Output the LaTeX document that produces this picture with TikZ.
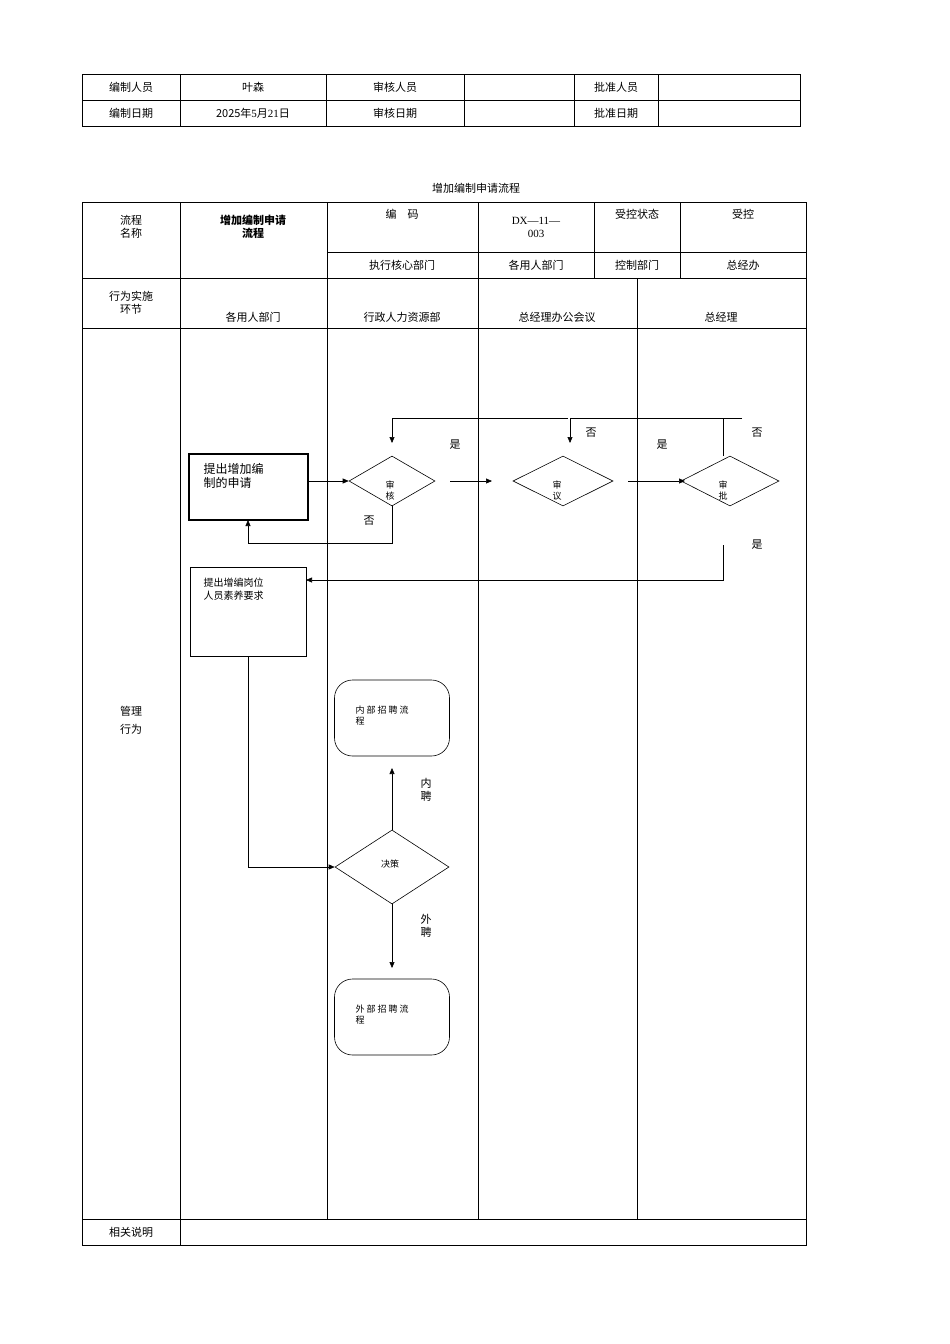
\documentclass[tikz,border=0pt]{standalone}
\usepackage{fontspec}
\setmainfont{Liberation Serif}
\newfontfamily\cjk{Noto Sans CJK SC}
\usetikzlibrary{shapes.geometric,arrows.meta}
\begin{document}
\begin{tikzpicture}[x=1pt,y=-1pt,font=\cjk\fontsize{11}{13}\selectfont,
  tl/.style={line width=0.6pt},
  arr/.style={-{Triangle[length=6pt,width=5pt]},line width=0.6pt},
  dia/.style={diamond,draw,line width=0.6pt,aspect=1.8,inner sep=0pt},
  stad/.style={draw,rounded corners=18pt,line width=0.6pt},
  sm/.style={font=\cjk\fontsize{9}{11}\selectfont}]
\useasboundingbox (0,0) rectangle (950,1344);
% top table
\draw[tl] (82,74) rectangle (800,126) (82,100)--(800,100);
\foreach \x in {180,326,464,574,658} \draw[tl] (\x,74)--(\x,126);
\node (a1) at (131,87) {编制人员}; \node (a2) at (253,87) {叶森};
\node (a3) at (395,87) {审核人员}; \node (a4) at (616,87) {批准人员};
\node (b1) at (131,113) {编制日期}; \node (b2) at (253,113) {2025\cjk 年\rmfamily 5\cjk 月\rmfamily 21\cjk 日};
\node (b3) at (395,113) {审核日期}; \node (b4) at (616,113) {批准日期};
\node (title) at (476,188) {增加编制申请流程};
% main table
\draw[tl] (82,202) rectangle (806,1245);
\draw[tl] (327,252)--(806,252) (82,278)--(806,278) (82,328)--(806,328) (82,1219)--(806,1219);
\draw[tl] (180,202)--(180,1245) (327,202)--(327,1219) (478,202)--(478,1219) (637,278)--(637,1219);
\draw[tl] (594,202)--(594,278) (680,202)--(680,278);
\node[align=center] (h1) at (131,227) {流程\\名称};
\node[align=center,font=\cjk\bfseries\fontsize{11}{13}\selectfont] (h2) at (253,227) {增加编制申请\\流程};
\node (h3) at (402,214) {编\quad 码};
\node[align=center] (h4) at (536,227) {\rmfamily DX—11—\\\rmfamily 003};
\node (h5) at (637,214) {受控状态}; \node (h6) at (743,214) {受控};
\node (h7) at (402,265) {执行核心部门}; \node (h8) at (536,265) {各用人部门};
\node (h9) at (637,265) {控制部门}; \node (h10) at (743,265) {总经办};
\node[align=center] (r1) at (131,303) {行为实施\\环节};
\node (l1) at (253,317) {各用人部门}; \node (l2) at (402,317) {行政人力资源部};
\node (l3) at (557,317) {总经理办公会议}; \node (l4) at (721,317) {总经理};
\node[align=center,font=\cjk\fontsize{11}{18}\selectfont] (m) at (131,720) {管理\\行为};
\node (rel) at (131,1232) {相关说明};
% flow
\draw[line width=2pt] (189,454) rectangle (308,520);
\node[align=left,font=\cjk\fontsize{12}{14}\selectfont,anchor=north west] (p1) at (200,460) {提出增加编\\制的申请};
\coordinate (p1e) at (308,481); \coordinate (p1s) at (248,520);
\node[dia,minimum width=86pt,minimum height=50pt] (d1) at (392,481) {};
\node[sm,align=center] at (390,491) {审\\核};
\node[dia,minimum width=100pt,minimum height=50pt] (d2) at (563,481) {};
\node[sm,align=center] at (557,491) {审\\议};
\node[dia,minimum width=98pt,minimum height=50pt] (d3) at (730,481) {};
\node[sm,align=center] at (723,491) {审\\批};
\draw[tl] (190,567) rectangle (306,656);
\node[align=left,sm,font=\cjk\fontsize{10}{13}\selectfont,anchor=north west] (p2) at (200,574) {提出增编岗位\\人员素养要求};
\coordinate (p2e) at (306,580); \coordinate (p2s) at (248,656);
\draw[arr] (p1e)--(d1.west);
\draw[arr] (392,506)--(392,543)--(248,543)--(p1s);
\node at (369,521) {否};
\coordinate (g1) at (450,481); \coordinate (g2) at (492,481);
\draw[arr] (g1)--(g2);
\coordinate (g3) at (628,481); \coordinate (g4) at (685,481);
\draw[arr] (g3)--(g4);
\node at (455,445) {是}; \node at (662,445) {是};
\node at (591,433) {否}; \node at (757,433) {否};
\draw[arr] (568,418)--(392,418)--(392,443);
\draw[arr] (742,418)--(570,418)--(570,443);
\draw[tl] (723,418)--(723,456);
\draw[arr] (723,545)--(723,580)--(p2e);
\node at (757,545) {是};
% recruitment
\node[stad,minimum width=115pt,minimum height=76pt] (in) at (392,718) {};
\node[sm,align=left,anchor=north west] at (352,702) {内 部 招 聘 流\\程};
\node[stad,minimum width=115pt,minimum height=76pt] (out) at (392,1017) {};
\node[sm,align=left,anchor=north west] at (352,1001) {外 部 招 聘 流\\程};
\node[dia,minimum width=114pt,minimum height=74pt,aspect=1.54] (dc) at (392,867) {};
\node[sm] at (390,864) {决策};
\draw[arr] (p2s)--(248,867)--(dc.west);
\draw[arr] (dc.north)--(392,768);
\draw[arr] (dc.south)--(392,968);
\node[align=center] at (426,790) {内\\聘};
\node[align=center] at (426,926) {外\\聘};
\end{tikzpicture}
\end{document}
